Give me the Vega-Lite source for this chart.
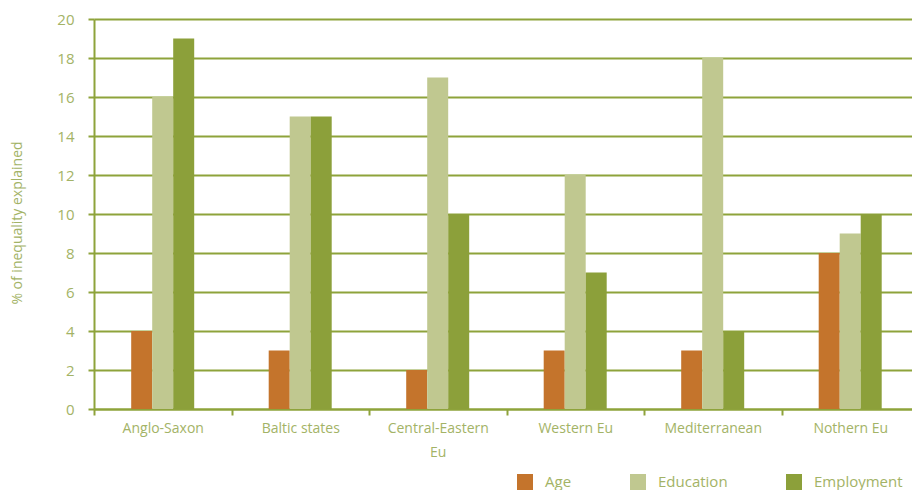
{
  "$schema": "https://vega.github.io/schema/vega-lite/v6.json",
  "width": 818,
  "height": 390,
  "autosize": {"type": "none"},
  "padding": {"left": 94, "top": 19, "right": 0, "bottom": 81},
  "background": "white",
  "config": {
    "view": {"stroke": null},
    "font": "Open Sans",
    "axis": {"labelFont": "Open Sans", "titleFont": "Open Sans"}
  },
  "data": {
    "values": [
      {"region": "Anglo-Saxon", "factor": "Age", "value": 4},
      {"region": "Anglo-Saxon", "factor": "Education", "value": 16},
      {"region": "Anglo-Saxon", "factor": "Employment", "value": 19},
      {"region": "Baltic states", "factor": "Age", "value": 3},
      {"region": "Baltic states", "factor": "Education", "value": 15},
      {"region": "Baltic states", "factor": "Employment", "value": 15},
      {"region": "Central-Eastern Eu", "factor": "Age", "value": 2},
      {"region": "Central-Eastern Eu", "factor": "Education", "value": 17},
      {"region": "Central-Eastern Eu", "factor": "Employment", "value": 10},
      {"region": "Western Eu", "factor": "Age", "value": 3},
      {"region": "Western Eu", "factor": "Education", "value": 12},
      {"region": "Western Eu", "factor": "Employment", "value": 7},
      {"region": "Mediterranean", "factor": "Age", "value": 3},
      {"region": "Mediterranean", "factor": "Education", "value": 18},
      {"region": "Mediterranean", "factor": "Employment", "value": 4},
      {"region": "Nothern Eu", "factor": "Age", "value": 8},
      {"region": "Nothern Eu", "factor": "Education", "value": 9},
      {"region": "Nothern Eu", "factor": "Employment", "value": 10}
    ]
  },
  "mark": {"type": "bar"},
  "encoding": {
    "x": {
      "field": "region",
      "type": "nominal",
      "sort": null,
      "scale": {"paddingInner": 0, "paddingOuter": 0, "range": [0, 825]},
      "axis": {
        "title": null,
        "labelAngle": 0,
        "labelColor": "#a3b366",
        "labelFontSize": 14,
        "labelPadding": 6,
        "labelLineHeight": 24,
        "labelExpr": "datum.label == 'Central-Eastern Eu' ? ['Central-Eastern', 'Eu'] : datum.label",
        "tickBand": "extent",
        "tickColor": "#8ea33b",
        "tickWidth": 2,
        "tickSize": 6,
        "domainColor": "#8ea33b",
        "domainWidth": 2,
        "grid": false
      }
    },
    "xOffset": {
      "field": "factor",
      "type": "nominal",
      "scale": {"paddingInner": 0, "paddingOuter": 0, "range": [37.2, 100.2]}
    },
    "y": {
      "field": "value",
      "type": "quantitative",
      "scale": {"domain": [0, 20]},
      "axis": {
        "title": "% of inequality explained",
        "titleColor": "#a3b366",
        "titleFontSize": 14,
        "titleFontWeight": "normal",
        "titlePadding": 32,
        "titleY": 203.5,
        "values": [0, 2, 4, 6, 8, 10, 12, 14, 16, 18, 20],
        "labelColor": "#a3b366",
        "labelFontSize": 15,
        "labelPadding": 14,
        "tickColor": "#8ea33b",
        "tickWidth": 2,
        "tickSize": 6,
        "domainColor": "#8ea33b",
        "domainWidth": 2,
        "grid": true,
        "gridColor": "#8ea33b",
        "gridWidth": 2,
        "gridOpacity": 1
      }
    },
    "color": {
      "field": "factor",
      "type": "nominal",
      "scale": {
        "domain": ["Age", "Education", "Employment"],
        "range": ["#c4742c", "#c0c890", "#8ca03a"]
      },
      "legend": {
        "title": null,
        "orient": "none",
        "legendX": 423,
        "legendY": 455,
        "direction": "horizontal",
        "symbolType": "square",
        "symbolSize": 256,
        "symbolStrokeWidth": 0,
        "symbolOpacity": 1,
        "labelFontSize": 15,
        "labelColor": "#a3b366",
        "labelOffset": 12,
        "columnPadding": 58
      }
    }
  }
}
